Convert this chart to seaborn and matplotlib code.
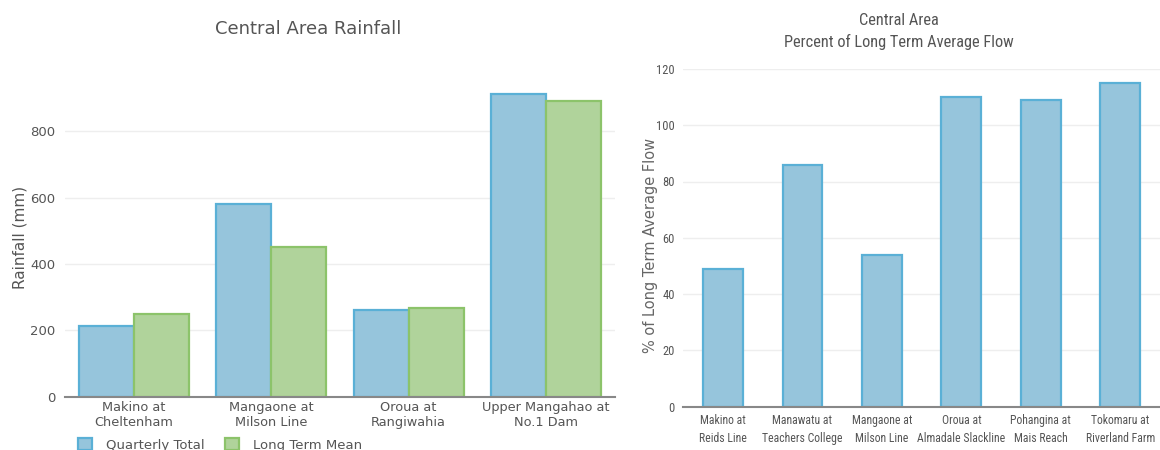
import seaborn as sns
import matplotlib.pyplot as plt
import pandas as pd

# left chart: rainfall
rain_sites = ["Makino at\nCheltenham", "Mangaone at\nMilson Line", "Oroua at\nRangiwahia", "Upper Mangahao at\nNo.1 Dam"]
quarterly_total = [213, 580, 262, 911]
long_term_mean = [250, 451, 268, 890]

# right chart: flow
flow_sites = ["Makino at\nReids Line", "Manawatu at\nTeachers College", "Mangaone at\nMilson Line",
              "Oroua at\nAlmadale Slackline", "Pohangina at\nMais Reach", "Tokomaru at\nRiverland Farm"]
flow_pct = [49, 86, 54, 110, 109, 115]

rain = pd.DataFrame({
    "site": rain_sites * 2,
    "series": ["Quarterly Total"] * 4 + ["Long Term Mean"] * 4,
    "value": quarterly_total + long_term_mean,
})
flow = pd.DataFrame({"site": flow_sites, "pct": flow_pct})

sns.set_theme(style="white")
plt.rcParams['font.family'] = ['DejaVu Sans']

txt = "#555555"
blue_fill, blue_edge = "#96c5dc", "#5ab0d6"
green_fill, green_edge = "#b0d39b", "#8cc36a"
# condensed face for the right chart, falls back to DejaVu if missing
narrow = ['Roboto Condensed', 'Archivo Narrow', 'Liberation Sans Narrow', 'DejaVu Sans']

fig = plt.figure(figsize=(11.6, 4.5), dpi=100)
ax1 = fig.add_axes([0.056, 0.118, 0.474, 0.738])
ax2 = fig.add_axes([0.589, 0.096, 0.411, 0.751])

# ---- left
sns.barplot(data=rain, x="site", y="value", hue="series", ax=ax1,
            palette=[blue_fill, green_fill], width=0.8, gap=0, saturation=1, legend=False)
for p, ec in zip(ax1.patches, [blue_edge] * 4 + [green_edge] * 4):
    p.set_edgecolor(ec)
    p.set_linewidth(1.6)
ax1.set_ylim(0, 1000)
ax1.set_yticks([0, 200, 400, 600, 800])
ax1.set_xlim(-0.5, 3.5)
ax1.grid(axis="y", color="#eeeeee", linewidth=1)
ax1.set_axisbelow(True)
for s in ["top", "right", "left"]:
    ax1.spines[s].set_visible(False)
ax1.spines["bottom"].set_color("#888888")
ax1.spines["bottom"].set_linewidth(1.5)
ax1.tick_params(axis="y", colors=txt, labelsize=9.5, length=5, width=1, color="#888888", pad=2)
ax1.tick_params(axis="x", colors=txt, labelsize=9.3, length=0, pad=3)
for t in ax1.get_xticklabels():
    t.set_linespacing(1.2)
ax1.set_xlabel("")
ax1.set_ylabel("Rainfall (mm)", color=txt, fontsize=11)
ax1.yaxis.set_label_coords(-0.069, 0.479)
ax1.set_title("Central Area Rainfall", color=txt, fontsize=13, pad=22, x=0.442)

handles = [plt.Rectangle((0, 0), 1, 1, facecolor=blue_fill, edgecolor=blue_edge, linewidth=1.6),
           plt.Rectangle((0, 0), 1, 1, facecolor=green_fill, edgecolor=green_edge, linewidth=1.6)]
fig.legend(handles, ["Quarterly Total", "Long Term Mean"], loc="lower left",
           bbox_to_anchor=(0.057, -0.03), ncol=2, frameon=False, fontsize=9.5,
           labelcolor=txt, handlelength=1.05, handleheight=1.1, columnspacing=1.5, handletextpad=1.1)

# ---- right
sns.barplot(data=flow, x="site", y="pct", ax=ax2, color=blue_fill, width=0.5, saturation=1)
for p in ax2.patches:
    p.set_edgecolor(blue_edge)
    p.set_linewidth(1.6)
ax2.set_ylim(0, 120)
ax2.set_yticks(range(0, 121, 20))
ax2.set_xlim(-0.5, 5.5)
ax2.grid(axis="y", color="#eeeeee", linewidth=1)
ax2.set_axisbelow(True)
for s in ["top", "right", "left"]:
    ax2.spines[s].set_visible(False)
ax2.spines["bottom"].set_color("#888888")
ax2.spines["bottom"].set_linewidth(1.5)
ax2.tick_params(axis="y", colors=txt, labelsize=9, length=5, width=1, color="#888888", pad=1)
ax2.tick_params(axis="x", colors=txt, labelsize=8.5, length=0, pad=5)
for t in ax2.get_xticklabels() + ax2.get_yticklabels():
    t.set_fontfamily(narrow)
for t in ax2.get_xticklabels():
    t.set_linespacing(1.5)
ax2.set_xlabel("")
ax2.set_ylabel("% of Long Term Average Flow", color="#666666", fontsize=10.5)
ax2.yaxis.set_label_coords(-0.052, 0.476)
ax2.set_title("Central Area\nPercent of Long Term Average Flow", color=txt, fontsize=11.8,
              family=narrow, pad=16, linespacing=1.4, x=0.453)

plt.savefig("out.png", dpi=100)
